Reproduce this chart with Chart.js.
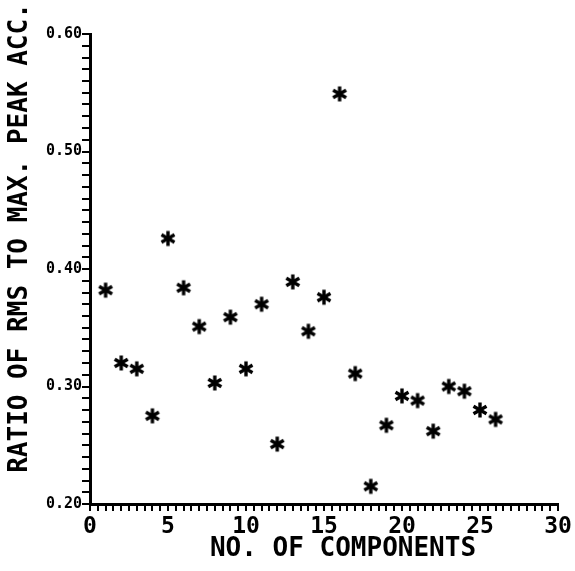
<!DOCTYPE html>
<html>
<head>
<meta charset="utf-8">
<script src="https://cdn.jsdelivr.net/npm/chart.js@4"></script>
<style>
  html, body { margin: 0; padding: 0; background: #fff; }
  #wrap { width: 575px; height: 571px; position: relative; }
</style>
</head>
<body>
<div id="wrap"><canvas id="grafico"></canvas></div>
<script>
// numero di componenti (asse x)
const componenti = [1, 2, 3, 4, 5, 6, 7, 8, 9, 10, 11, 12, 13, 14, 15, 16, 17, 18, 19, 20, 21, 22, 23, 24, 25, 26];
// rapporto RMS / picco massimo
const rapporti = [0.382, 0.320, 0.315, 0.275, 0.426, 0.384, 0.351, 0.303, 0.359, 0.315, 0.370, 0.251,
                  0.389, 0.347, 0.376, 0.549, 0.311, 0.215, 0.267, 0.292, 0.288, 0.262, 0.300, 0.296,
                  0.280, 0.272];
const xTicks = [0, 5, 10, 15, 20, 25, 30];
const yTicks = ['0.20', '0.30', '0.40', '0.50', '0.60'];
const titoloX = 'NO. OF COMPONENTS';
const titoloY = 'RATIO OF RMS TO MAX. PEAK ACC.';

const FONT = '"DejaVu Sans Mono", monospace';

// asterisco a 6 punte come nel grafico originale
function creaAsterisco() {
    const c = document.createElement('canvas');
    c.width = 18;
    c.height = 18;
    const g = c.getContext('2d');
    g.strokeStyle = '#000';
    g.lineWidth = 3.4;
    g.lineCap = 'butt';
    const r = 7.5;
    [90, 30, 150].forEach(a => {
        const rad = a * Math.PI / 180;
        g.beginPath();
        g.moveTo(9 - r * Math.cos(rad), 9 - r * Math.sin(rad));
        g.lineTo(9 + r * Math.cos(rad), 9 + r * Math.sin(rad));
        g.stroke();
    });
    return c;
}

const titoliPlugin = {
    id: 'titoli',
    afterDraw(chart) {
        const ctx = chart.ctx;
        ctx.save();
        ctx.fillStyle = '#000';
        ctx.font = 'bold 26px ' + FONT;
        ctx.textAlign = 'center';
        ctx.textBaseline = 'middle';
        ctx.fillText(titoloX, 343, 549);
        ctx.translate(20, 238);
        ctx.rotate(-Math.PI / 2);
        ctx.fillText(titoloY, 0, 0);
        ctx.restore();
    }
};

const punti = componenti.map((x, i) => ({ x: x, y: rapporti[i] }));

new Chart(document.getElementById('grafico').getContext('2d'), {
    type: 'scatter',
    data: {
        datasets: [{
            data: punti,
            pointStyle: creaAsterisco(),
            pointRadius: 9,
            borderColor: '#000',
            backgroundColor: '#000'
        }]
    },
    options: {
        responsive: true,
        maintainAspectRatio: false,
        animation: false,
        layout: {
            padding: { top: 34, right: 17, left: 0, bottom: 0 }
        },
        plugins: {
            legend: { display: false },
            tooltip: { enabled: false }
        },
        scales: {
            x: {
                type: 'linear',
                min: 0,
                max: 30,
                border: { display: true, color: '#000', width: 3 },
                grid: {
                    drawOnChartArea: false,
                    drawTicks: true,
                    tickLength: 7,
                    color: '#000',
                    lineWidth: 2
                },
                ticks: {
                    stepSize: 0.5,
                    autoSkip: false,
                    maxRotation: 0,
                    padding: 2,
                    color: '#000',
                    font: { family: FONT, size: 23, weight: 'bold' },
                    callback: function(value) {
                        return xTicks.includes(value) ? String(value) : '';
                    }
                },
                afterFit: function(scale) { scale.height = 67; }
            },
            y: {
                type: 'linear',
                min: 0.2,
                max: 0.6,
                border: { display: true, color: '#000', width: 3 },
                grid: {
                    drawOnChartArea: false,
                    drawTicks: true,
                    tickLength: 8,
                    color: '#000',
                    lineWidth: 2
                },
                ticks: {
                    stepSize: 0.01,
                    autoSkip: false,
                    padding: 0,
                    color: '#000',
                    font: { family: FONT, size: 15, weight: 'bold' },
                    callback: function(value) {
                        const s = value.toFixed(2);
                        return yTicks.includes(s) && Math.abs(value * 10 - Math.round(value * 10)) < 1e-6 ? s : '';
                    }
                },
                afterFit: function(scale) { scale.width = 90; }
            }
        }
    },
    plugins: [titoliPlugin]
});
</script>
</body>
</html>
